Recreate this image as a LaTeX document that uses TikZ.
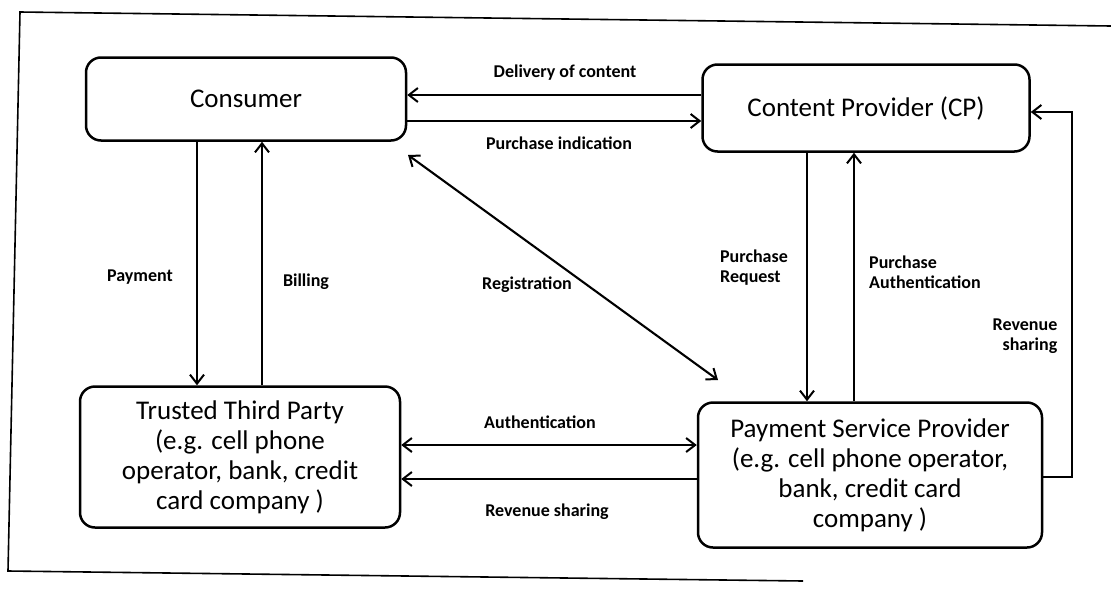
\documentclass[tikz,border=0pt]{standalone}
\usepackage{fontspec}
\setmainfont{Carlito}
\usetikzlibrary{arrows.meta,positioning}

\begin{document}
\begin{tikzpicture}[x=1pt, y=-1pt,
  entity/.style={draw, rounded corners=15pt, line width=2.5pt, align=center, inner sep=4pt, font=\fontsize{27}{30}\selectfont},
  arr/.style={-{Straight Barb[length=9pt, width=14pt, line width=2pt]}, line width=2.1pt},
  both/.style={{Straight Barb[length=9pt, width=14pt, line width=2pt]}-{Straight Barb[length=9pt, width=14pt, line width=2pt]}, line width=2.1pt},
  label/.style={font=\bfseries\fontsize{18}{20}\selectfont, align=left},
]
\useasboundingbox (0,0) rectangle (1111,592);

% Frame (open on the right)
\draw[line width=1.6pt] (1111,26) -- (20,12) -- (8,571) -- (803,581);

% Parties
\node[entity, minimum width=320pt, minimum height=83pt] (cons) at (246,99) {Consumer};
\node[entity, minimum width=327pt, minimum height=87pt] (cp)   at (866,108) {Content Provider (CP)};
\node[entity, minimum width=320pt, minimum height=141pt] (ttp) at (240,457) {Trusted Third Party\\(e.g. cell phone\\operator, bank, credit\\card company )};
\node[entity, minimum width=344pt, minimum height=145pt] (psp) at (870,475) {Payment Service Provider\\(e.g. cell phone operator,\\bank, credit card\\company )};

% Consumer <-> content provider
\draw[arr] (cp.west |- 0,95) -- (cons.east |- 0,95);
\draw[arr] (cons.east |- 0,121) -- (cp.west |- 0,121);

% Consumer <-> trusted third party
\draw[arr] (cons.south -| 197,0) -- (ttp.north -| 197,0);
\draw[arr] (ttp.north -| 262,0) -- (cons.south -| 262,0);

% Registration
\coordinate (reg1) at (408,155);
\coordinate (reg2) at (718,380);
\draw[both] (reg1) -- (reg2);

% Content provider <-> payment service provider
\draw[arr] (cp.south -| 807,0) -- (psp.north -| 807,0);
\draw[arr] (psp.north -| 854,0) -- (cp.south -| 854,0);
\coordinate (rv) at (1072,112);
\draw[arr] (psp.east |- 0,477) -| (rv) -- (cp.east |- rv);

% Trusted third party <-> payment service provider
\draw[both] (ttp.east |- 0,445) -- (psp.west |- 0,445);
\draw[arr] (psp.west |- 0,479) -- (ttp.east |- 0,479);

% Labels
\node[label] at (565,73) {Delivery of content};
\node[label] at (559,143) {Purchase indication};
\node[label] at (140,277) {Payment};
\node[label] at (306,282) {Billing};
\node[label] at (527,285) {Registration};
\node[label] at (754,268) {Purchase\\Request};
\node[label] at (925,272) {Purchase\\Authentication};
\node[label, align=right] at (1025,336) {Revenue\\sharing};
\node[label] at (540,422) {Authentication};
\node[label] at (547,512) {Revenue sharing};

\end{tikzpicture}
\end{document}
